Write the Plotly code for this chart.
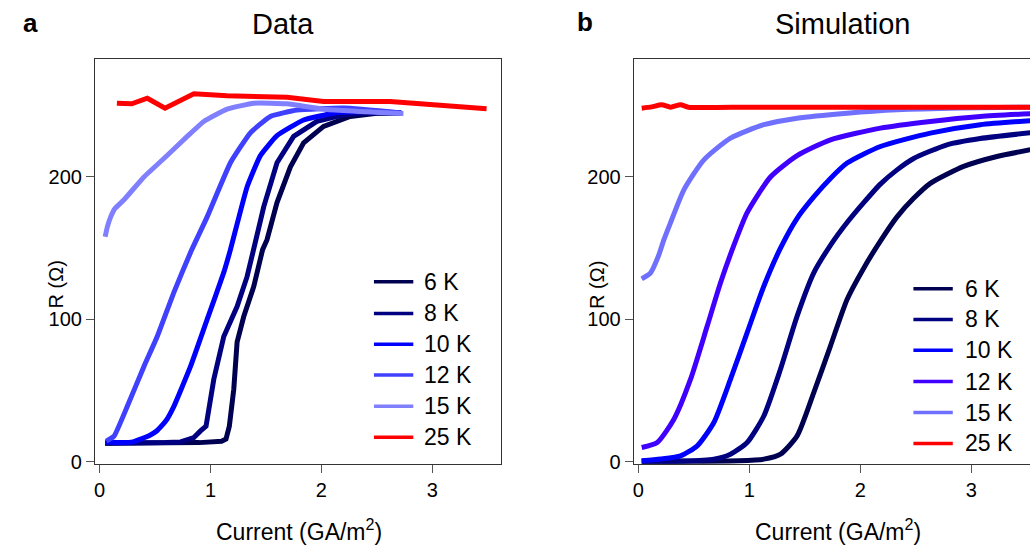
import plotly.graph_objects as go

# ---------------- data ----------------
labels = ["6 K", "8 K", "10 K", "12 K", "15 K", "25 K"]

# Panel a: Data  (current in GA/m^2, resistance in Ohm)
data_I = [
    [0.05, 0.3, 0.6, 0.9, 1.1, 1.14, 1.17, 1.21, 1.24, 1.30, 1.39, 1.47, 1.51, 1.60, 1.72, 1.84, 2.02, 2.26, 2.50, 2.72],
    [0.05, 0.3, 0.6, 0.73, 0.85, 0.91, 0.96, 1.03, 1.12, 1.24, 1.33, 1.41, 1.48, 1.60, 1.75, 1.96, 2.2, 2.45, 2.72],
    [0.05, 0.2, 0.3, 0.37, 0.45, 0.52, 0.6, 0.67, 0.82, 0.97, 1.12, 1.18, 1.33, 1.45, 1.60, 1.84, 2.11, 2.4, 2.72],
    [0.06, 0.13, 0.25, 0.40, 0.52, 0.67, 0.82, 0.97, 1.18, 1.36, 1.54, 1.78, 2.2, 2.72],
    [0.05, 0.07, 0.10, 0.14, 0.22, 0.40, 0.58, 0.79, 0.94, 1.15, 1.39, 1.69, 2.02, 2.74],
    [0.156, 0.29, 0.43, 0.59, 0.85, 1.15, 1.69, 2.02, 2.62, 3.49],
]
data_R = [
    [13, 13, 13, 13.5, 14.5, 16, 25, 51, 84, 102, 123, 149, 156, 182, 207, 224, 235.5, 242.5, 244.8, 245],
    [13, 13, 13.5, 14, 17, 21.7, 25, 58, 88, 109, 130, 156, 179, 210, 228.5, 239, 243.7, 245, 245],
    [14, 13.5, 14, 16, 18.5, 22, 29, 39, 67, 100, 133, 149, 193, 215, 229, 240, 244.8, 246, 245],
    [14.5, 18, 39, 67, 88, 119, 147, 172, 210, 231, 242.5, 247, 248.5, 245],
    [158, 165, 172, 178, 184, 200, 213, 228.5, 239, 247.6, 251.8, 251.4, 247.6, 244.5],
    [251.8, 251.4, 255.3, 248.3, 258.4, 257, 256, 253, 253, 247.9],
]

# Panel b: Simulation
sim_I = [
    [0.03, 0.5, 0.9, 1.13, 1.28, 1.43, 1.58, 1.73, 1.88, 2.03, 2.18, 2.33, 2.48, 2.63, 2.93, 3.23, 3.53],
    [0.03, 0.4, 0.68, 0.83, 0.98, 1.13, 1.28, 1.43, 1.58, 1.73, 1.88, 2.03, 2.18, 2.33, 2.48, 2.78, 3.08, 3.53],
    [0.03, 0.2, 0.38, 0.53, 0.68, 0.83, 0.98, 1.13, 1.28, 1.43, 1.58, 1.73, 1.88, 2.18, 2.63, 3.08, 3.53],
    [0.03, 0.17, 0.32, 0.47, 0.62, 0.74, 0.86, 0.98, 1.19, 1.43, 1.73, 2.18, 2.63, 3.08, 3.53],
    [0.03, 0.11, 0.18, 0.23, 0.29, 0.41, 0.59, 0.83, 1.13, 1.43, 1.88, 2.33, 2.9, 3.53],
    [0.03, 0.12, 0.21, 0.29, 0.38, 0.45, 1.0, 2.0, 3.0, 3.53],
]
sim_R = [
    [0.5, 0.5, 0.8, 1.9, 5.4, 18.2, 48.6, 81.3, 114, 136, 155, 172, 185, 195.5, 207.4, 214.4, 219.1],
    [0.5, 0.6, 1.9, 5.4, 13.6, 32.2, 65, 102.3, 132.7, 152, 168, 182, 195, 205, 213, 222.6, 227, 231],
    [0.7, 2, 4.2, 11.2, 27.6, 58, 90.7, 123.3, 150, 171, 186, 199, 209.8, 221.4, 230.8, 236.7, 239.5],
    [10.1, 13.6, 29.9, 58, 95.3, 125.7, 152, 175, 200, 215, 226.1, 234.3, 239, 242.5, 244.4],
    [128.5, 132.7, 144.4, 156, 168, 191, 212, 227.3, 236.7, 241.3, 244.8, 247.2, 248.5, 249],
    [248.3, 249.2, 250.7, 249, 250.7, 249, 249, 249, 249, 249],
]

x_ticks = [0, 1, 2, 3]
y_ticks = [0, 100, 200]

# ---------------- styles ----------------
colors_a = ["#000050", "#000080", "#0000ff", "#4040ff", "#8080ff", "#ff0000"]
colors_b = ["#000050", "#000080", "#0000ff", "#4000ff", "#7070ff", "#ff0000"]
smooth_a = [False, False, True, True, True, False]
FONT = "Liberation Sans, Arial, Helvetica, sans-serif"
W, H = 1030, 548
HE = 540  # effective drawn height used for vertical paper fractions

fig = go.Figure()
for i in range(len(labels)):
    ln = dict(color=colors_a[i], width=5)
    if smooth_a[i]:
        ln.update(shape="spline", smoothing=0.4)
    fig.add_trace(go.Scatter(x=data_I[i], y=data_R[i], mode="lines", name=labels[i],
                             line=ln, showlegend=False, xaxis="x", yaxis="y"))
for i in range(len(labels)):
    fig.add_trace(go.Scatter(x=sim_I[i], y=sim_R[i], mode="lines", name=labels[i],
                             line=dict(color=colors_b[i], width=5, shape="spline", smoothing=0.6),
                             showlegend=False, xaxis="x2", yaxis="y2"))

ydom = [1 - 465 / HE, 1 - 59.3 / HE]
axis_common = dict(showline=True, linecolor="#333", linewidth=1, ticks="outside", ticklen=8,
                   tickcolor="#555", tickwidth=1, showgrid=False, zeroline=False,
                   tickfont=dict(size=20, color="black", family=FONT))
fig.update_layout(
    width=W, height=H,
    margin=dict(l=0, r=0, t=0, b=0),
    paper_bgcolor="white", plot_bgcolor="white",
    font=dict(family=FONT, color="black"),
    xaxis=dict(domain=[94 / W, 500.7 / W], range=[-0.0423, 3.622], tickvals=x_ticks,
               mirror=True, anchor="y", **axis_common),
    yaxis=dict(domain=ydom, range=[-1.61, 282.7], tickvals=y_ticks, mirror=True,
               anchor="x", **axis_common),
    xaxis2=dict(domain=[633.3 / W, 1.0], range=[-0.0423, 3.528], tickvals=x_ticks,
                mirror=True, anchor="y2", **axis_common),
    yaxis2=dict(domain=ydom, range=[-1.61, 282.7], tickvals=y_ticks, mirror=False,
                anchor="x2", **axis_common),
)

ann = []
def txt(x, y, s, size, xanchor="center", **kw):
    d = dict(x=x / W, y=1 - y / HE, xref="paper", yref="paper", text=s, showarrow=False,
             xanchor=xanchor, yanchor="middle",
             font=dict(size=size, family=FONT, color="black"))
    d.update(kw)
    ann.append(d)

# titles and panel letters
txt(282, 24, "Data", 29)
txt(842, 24, "Simulation", 29)
txt(30, 23, "<b>a</b>", 26)
txt(585, 22, "<b>b</b>", 26)
# axis titles
txt(298, 531, "Current (GA/m<sup>2</sup>)", 23)
txt(838, 531, "Current (GA/m<sup>2</sup>)", 23)
txt(56, 285, "R (Ω)", 20, textangle=-90)
txt(597, 285, "R (Ω)", 20, textangle=-90)

# legends
shapes = []
leg_a_rows = [282.3, 314, 345, 375.7, 407, 438]
leg_b_rows = [289.3, 320, 351, 382.3, 413.3, 444.3]
for rows, x0, x1, xt, cols in [(leg_a_rows, 373.3, 412.7, 421.7, colors_a),
                               (leg_b_rows, 913.3, 952.7, 962.7, colors_b)]:
    for i, yy in enumerate(rows):
        shapes.append(dict(type="line", xref="paper", yref="paper", x0=x0 / W, x1=x1 / W,
                           y0=1 - yy / HE, y1=1 - yy / HE, line=dict(color=cols[i], width=3.5)))
        txt(xt, yy, labels[i], 23, xanchor="left")

fig.update_layout(annotations=ann, shapes=shapes)
fig.write_html("out.html")
